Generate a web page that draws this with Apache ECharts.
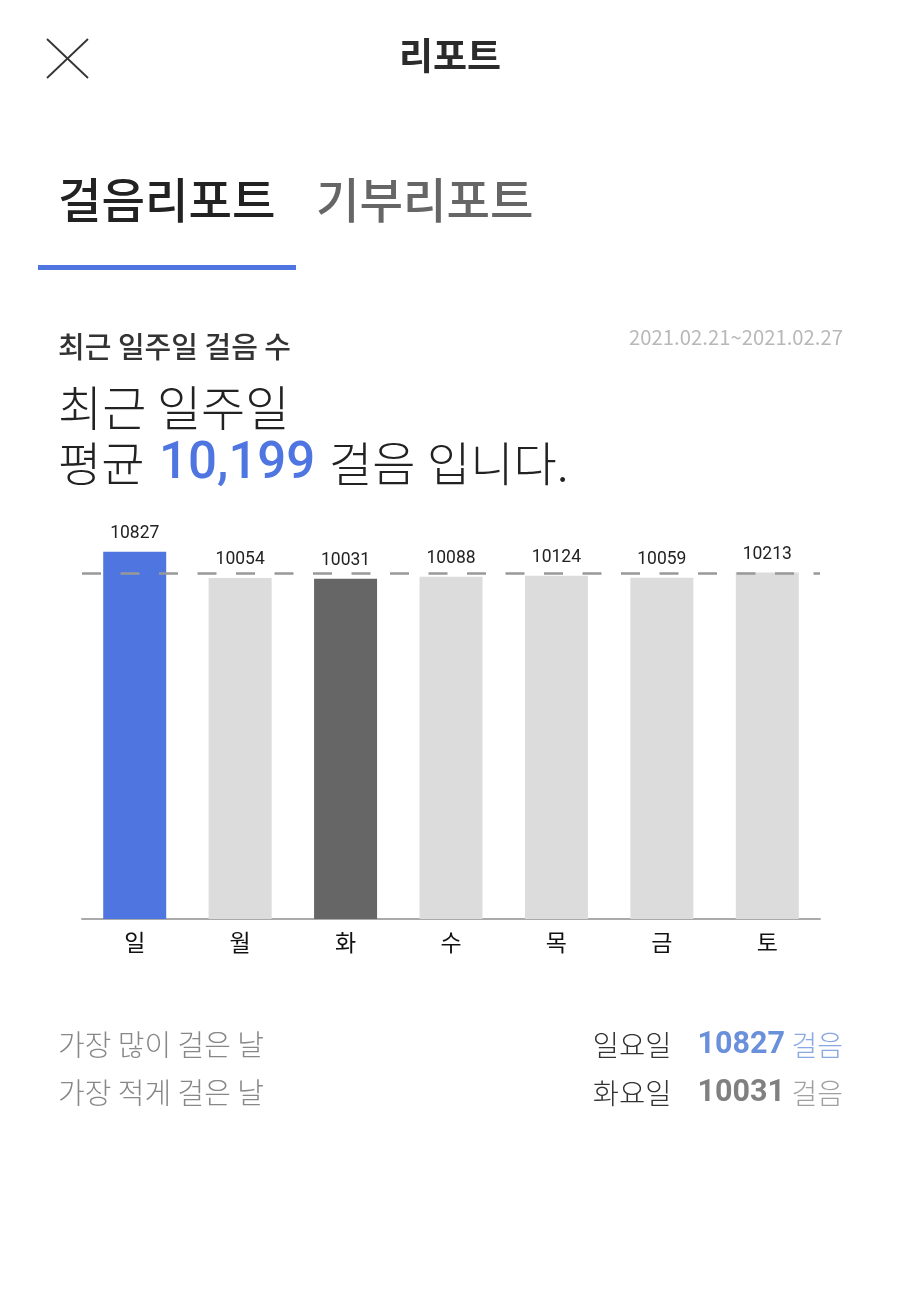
<!DOCTYPE html>
<html>
<head>
<meta charset="utf-8">
<style>
  html, body { margin: 0; padding: 0; background: #fff; }
  #main { width: 900px; height: 1300px; }
</style>
<script src="https://cdn.jsdelivr.net/npm/echarts@6/dist/echarts.min.js"></script>
</head>
<body>
<div id="main"></div>
<script>
var days = ['일', '월', '화', '수', '목', '금', '토'];
var steps = [10827, 10054, 10031, 10088, 10124, 10059, 10213];
var average = [10199];
var barColors = ['#4f76e0', '#dcdcdc', '#666666', '#dcdcdc', '#dcdcdc', '#dcdcdc', '#dcdcdc'];

var KR = '"Noto Sans CJK KR", "Noto Sans", sans-serif';
var LATIN = 'Roboto, "Noto Sans", sans-serif';

function text(x, y, str, size, color, weight, align, font) {
  return {
    type: 'text', x: x, y: y,
    style: {
      text: str, fontFamily: font || KR, fontSize: size, fill: color,
      fontWeight: weight || 400, align: align || 'left', verticalAlign: 'middle'
    }
  };
}

function line(x1, y1, x2, y2) {
  return {
    type: 'line',
    shape: { x1: x1, y1: y1, x2: x2, y2: y2 },
    style: { stroke: '#333', lineWidth: 1.8 }
  };
}

var myChart = echarts.init(document.getElementById('main'), null, { renderer: 'canvas' });

myChart.setOption({
  animation: false,
  backgroundColor: '#fff',
  grid: { left: 82, width: 738, top: 512, height: 407 },
  xAxis: {
    type: 'category',
    data: days,
    axisTick: { show: false },
    axisLine: { lineStyle: { color: '#aaaaaa', width: 2 } },
    axisLabel: { color: '#111', fontFamily: KR, fontSize: 23, margin: 12 }
  },
  yAxis: { type: 'value', min: 0, max: 12000, show: false },
  series: [{
    type: 'bar',
    barWidth: 63,
    data: steps.map(function (v, i) {
      return { value: v, itemStyle: { color: barColors[i] } };
    }),
    label: {
      show: true, position: 'top', distance: 9,
      color: '#222', fontFamily: LATIN, fontSize: 17.5
    },
    markLine: {
      silent: true,
      symbol: 'none',
      label: { show: false },
      lineStyle: { color: '#999999', width: 2.5, type: [19, 19.5], opacity: 1 },
      data: [{ yAxis: average[0] }]
    }
  }],
  graphic: [
    line(47, 39, 88, 78),
    line(88, 39, 47, 78),
    text(450, 56, '리포트', 37, '#2b2b2b', 700, 'center'),
    text(58, 200, '걸음리포트', 47.3, '#222', 500),
    text(316, 200, '기부리포트', 47.3, '#666', 500),
    { type: 'rect', shape: { x: 38, y: 265, width: 258, height: 5 }, style: { fill: '#4f76e0' } },
    text(58, 347, '최근 일주일 걸음 수', 29, '#333', 500),
    text(843, 337, '2021.02.21~2021.02.27', 20.3, '#b8b8b8', 400, 'right'),
    text(58, 408, '최근 일주일', 48, '#222', 300),
    text(58, 463, '평균', 47, '#222', 300),
    text(159, 465, '10,199', 51, '#4f76e0', 500, 'left', LATIN),
    text(329, 463, '걸음', 47, '#222', 300),
    text(427, 463, '입니다.', 47, '#222', 300),
    text(58, 1045, '가장 많이 걸은 날', 29, '#888', 300),
    text(58, 1093, '가장 적게 걸은 날', 29, '#888', 300),
    text(671.5, 1045, '일요일', 28.5, '#333', 300, 'right'),
    text(671.5, 1093, '화요일', 28.5, '#333', 300, 'right'),
    text(785, 1045.5, '10827', 30.5, '#6a90dc', 700, 'right', LATIN),
    text(785, 1093.5, '10031', 30.5, '#808080', 700, 'right', LATIN),
    text(843, 1045, '걸음', 28, '#8aa8e2', 300, 'right'),
    text(843, 1093, '걸음', 28, '#a0a0a0', 300, 'right')
  ]
});
</script>
</body>
</html>
